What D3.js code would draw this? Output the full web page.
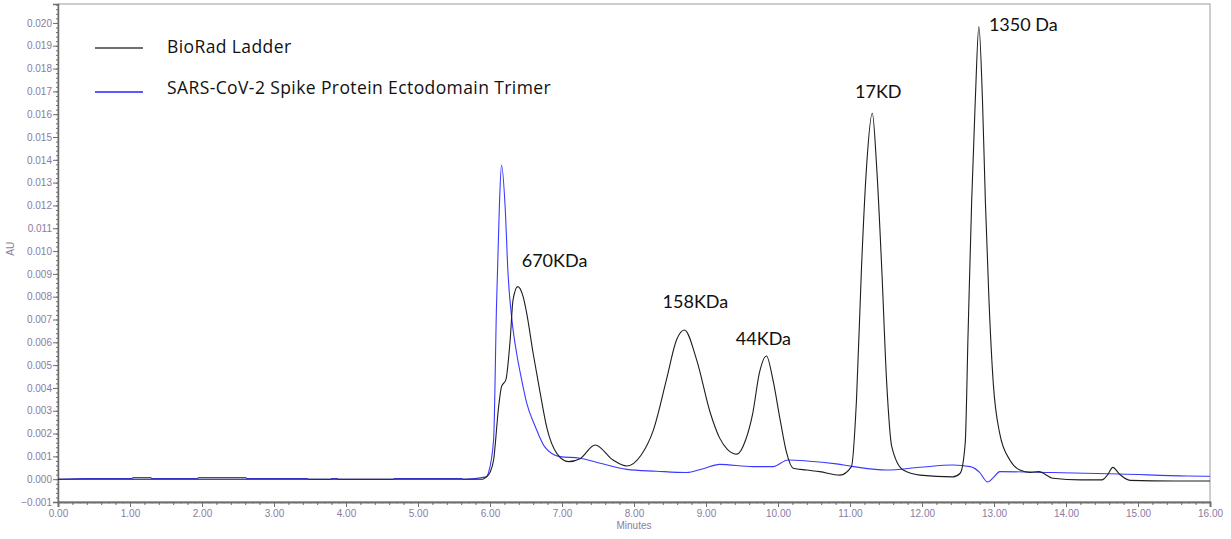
<!DOCTYPE html>
<html>
<head>
<meta charset="utf-8">
<script src="https://cdn.jsdelivr.net/npm/d3@7/dist/d3.min.js"></script>
<style>
  body { margin: 0; background: #fff; }
  .axis text { font-family: "Liberation Sans", Arial, sans-serif; font-size: 10px; fill: #8a7c9e; }
  .axis line, .axis path { stroke: #6e6e6e; }
  .note { font-family: Lato, "Open Sans", sans-serif; fill: #111; }
  .legend-text { font-family: "Open Sans", "Noto Sans", sans-serif; fill: #111; letter-spacing: 0.4px; }
</style>
</head>
<body>
<div id="chart"></div>
<script>
// series (minutes, AU)
const ladderMinutes = [0, 5.9, 5.95, 6.0, 6.05, 6.12, 6.16, 6.22, 6.28, 6.32, 6.385, 6.46, 6.51, 6.6, 6.69, 6.79, 6.93, 7.09, 7.25, 7.46, 7.71, 7.9, 8.1, 8.27, 8.45, 8.59, 8.7, 8.87, 9.06, 9.19, 9.3, 9.43, 9.55, 9.65, 9.74, 9.84, 9.93, 10.03, 10.12, 10.21, 10.4, 10.58, 10.86, 11.02, 11.09, 11.16, 11.23, 11.31, 11.37, 11.44, 11.51, 11.58, 11.74, 11.97, 12.43, 12.53, 12.6, 12.64, 12.69, 12.74, 12.79, 12.84, 12.88, 12.93, 12.99, 13.08, 13.22, 13.36, 13.5, 13.62, 13.82, 14.2, 14.5, 14.58, 14.65, 14.75, 14.89, 15.5, 16];
const ladderAU = [0, 0, 0.0001, 0.0003, 0.00084, 0.00318, 0.00406, 0.00435, 0.0061, 0.00786, 0.00844, 0.008, 0.00727, 0.0055, 0.0039, 0.00225, 0.00112, 0.00077, 0.0009, 0.0015, 0.00084, 0.00058, 0.00106, 0.00216, 0.00435, 0.0061, 0.00654, 0.00523, 0.0029, 0.0018, 0.0013, 0.0011, 0.00172, 0.0029, 0.00464, 0.0054, 0.00435, 0.0026, 0.00115, 0.00048, 0.0004, 0.00033, 0.00018, 0.00055, 0.00347, 0.0093, 0.0137, 0.01604, 0.0137, 0.0093, 0.0042, 0.00143, 0.0004, 0.00018, 0.0001, 0.00026, 0.00157, 0.0064, 0.0122, 0.0166, 0.01984, 0.0166, 0.0122, 0.00786, 0.0042, 0.002, 0.00084, 0.0004, 0.0003, 0.00033, 0.00004, -0.00003, -0.00003, 0.0002, 0.00052, 0.0002, -0.00005, -0.00008, -0.00008];

const spikeMinutes = [0, 0.38, 1.03, 1.04, 1.29, 1.3, 1.94, 1.95, 2.61, 2.62, 3.46, 3.48, 3.79, 3.8, 3.88, 3.89, 4.66, 4.67, 5.61, 5.63, 5.95, 5.98, 6.05, 6.09, 6.13, 6.16, 6.21, 6.25, 6.31, 6.37, 6.44, 6.51, 6.63, 6.76, 6.97, 7.25, 7.53, 7.9, 8.31, 8.73, 8.95, 9.19, 9.65, 9.93, 10.14, 10.4, 10.81, 11.05, 11.51, 11.97, 12.43, 12.67, 12.8, 12.91, 13.0, 13.08, 13.82, 14.75, 15.68, 16];
const spikeAU = [0, 0.00003, 0.00003, 0.00007, 0.00007, 0.00003, 0.00003, 0.00007, 0.00007, 0.00003, 0.00003, 0, 0, 0.00003, 0.00003, 0, 0, 0.00003, 0.00003, 0, 0.0001, 0.0003, 0.00172, 0.00756, 0.01195, 0.01377, 0.01195, 0.00903, 0.00683, 0.00552, 0.00435, 0.00333, 0.0023, 0.00142, 0.00099, 0.00092, 0.0007, 0.00043, 0.00035, 0.00029, 0.00045, 0.00065, 0.00055, 0.00055, 0.00084, 0.0008, 0.00067, 0.00055, 0.0004, 0.00052, 0.00062, 0.00055, 0.0003, -0.00012, 0.0001, 0.00033, 0.00029, 0.00023, 0.00014, 0.00013];

const seriesNames = ["BioRad Ladder", "SARS-CoV-2 Spike Protein Ectodomain Trimer"];
const seriesColors = ["#1e1e1e", "#3a3aff"];
const legendColors = ["#707070", "#5a5aff"];

const peakLabels = ["670KDa", "158KDa", "44KDa", "17KD", "1350 Da"];
const peakMinutes = [6.385, 8.7, 9.84, 11.31, 12.79];
const peakAU = [0.00844, 0.00654, 0.0054, 0.01604, 0.01984];

const xTickValues = d3.range(0, 17, 1);
const yTickValues = d3.range(-1, 21, 1).map(d => d / 1000);

const xLabel = "Minutes";
const yLabel = "AU";

// layout
const W = 1231, H = 539;
const dims = { top: 4, right: 21, bottom: 37, left: 58 };
dims.width = W - dims.left - dims.right;
dims.height = H - dims.top - dims.bottom;

// label offsets from each peak tip: [dx, dy, anchor]
const peakLabelPos = [[4, -20, "start"], [11, -22, "middle"], [-3, -11, "middle"], [6, -15, "middle"], [10, 4, "start"]];

const svg = d3.select("#chart").append("svg")
  .attr("width", W)
  .attr("height", H)
  .append("g")
  .attr("transform", "translate(" + dims.left + "," + dims.top + ")");

const x = d3.scaleLinear().domain([0, 16]).range([0, dims.width]);
const y = d3.scaleLinear().domain([-0.001, 0.02083]).range([dims.height, 0]);

// frame
svg.append("rect")
  .attr("width", dims.width)
  .attr("height", dims.height)
  .attr("fill", "none")
  .attr("stroke", "#9a9a9a");

// y axis with minor ticks
svg.append("g").attr("class", "axis")
  .call(d3.axisLeft(y).tickValues(d3.range(-5, 105, 1).map(d => d / 5000)).tickSize(2).tickFormat(""))
  .call(g => g.select(".domain").remove());

svg.append("g").attr("class", "axis")
  .call(d3.axisLeft(y).tickValues(yTickValues).tickSize(5).tickPadding(1).tickFormat(d3.format(".3f")))
  .call(g => g.select(".domain").attr("stroke-width", 1.5));

// x axis: major, 0.2 and 0.1 minor ticks
const xAxisG = svg.append("g").attr("class", "axis")
  .attr("transform", "translate(0," + dims.height + ")");

xAxisG.append("g")
  .call(d3.axisBottom(x).tickValues(d3.range(0, 161, 1).map(d => d / 10)).tickSize(1.5).tickFormat(""))
  .call(g => g.select(".domain").remove());

xAxisG.append("g")
  .call(d3.axisBottom(x).tickValues(d3.range(0, 81, 1).map(d => d / 5)).tickSize(3).tickFormat(""))
  .call(g => g.select(".domain").remove());

xAxisG.append("g")
  .call(d3.axisBottom(x).tickValues(xTickValues).tickSize(5).tickPadding(3).tickFormat(d3.format(".2f")))
  .call(g => g.select(".domain").attr("stroke-width", 2));

// axis titles
svg.append("text")
  .attr("transform", "translate(" + (-44) + "," + (y(0.0101)) + ") rotate(-90)")
  .attr("text-anchor", "middle")
  .style("font-family", "Liberation Sans, Arial, sans-serif")
  .style("font-size", "10px")
  .style("fill", "#8a7c9e")
  .text(yLabel);

svg.append("text")
  .attr("x", x(8))
  .attr("y", dims.height + 27)
  .attr("text-anchor", "middle")
  .style("font-family", "Liberation Sans, Arial, sans-serif")
  .style("font-size", "10px")
  .style("fill", "#8a7c9e")
  .text(xLabel);

// traces
svg.append("clipPath").attr("id", "plot-clip")
  .append("rect").attr("width", dims.width).attr("height", dims.height);

const line = d3.line()
  .x(d => x(d[0]))
  .y(d => y(d[1]))
  .curve(d3.curveMonotoneX);

const traces = [
  d3.zip(spikeMinutes, spikeAU),
  d3.zip(ladderMinutes, ladderAU)
];
const traceColors = [seriesColors[1], seriesColors[0]];

svg.append("g").attr("clip-path", "url(#plot-clip)")
  .selectAll("path")
  .data(traces)
  .join("path")
  .attr("d", line)
  .attr("fill", "none")
  .attr("stroke", (d, i) => traceColors[i])
  .attr("stroke-width", 1.1)
  .attr("stroke-linejoin", "round");

// peak annotations
svg.selectAll(".note")
  .data(peakLabels)
  .join("text")
  .attr("class", "note")
  .attr("x", (d, i) => x(peakMinutes[i]) + peakLabelPos[i][0])
  .attr("y", (d, i) => y(peakAU[i]) + peakLabelPos[i][1])
  .attr("text-anchor", (d, i) => peakLabelPos[i][2])
  .style("font-size", "18px")
  .text(d => d);

// legend
const legend = svg.append("g").attr("transform", "translate(37,44)");
const legendRow = legend.selectAll("g")
  .data(seriesNames)
  .join("g")
  .attr("transform", (d, i) => "translate(0," + i * 44 + ")");

legendRow.append("line")
  .attr("x1", 0).attr("x2", 48)
  .attr("stroke", (d, i) => legendColors[i])
  .attr("stroke-width", 2);

legendRow.append("text")
  .attr("class", "legend-text")
  .attr("x", 72)
  .attr("y", (d, i) => i === 0 ? 4.5 : 1.5)
  .style("font-size", "17.5px")
  .text(d => d);
</script>
</body>
</html>
